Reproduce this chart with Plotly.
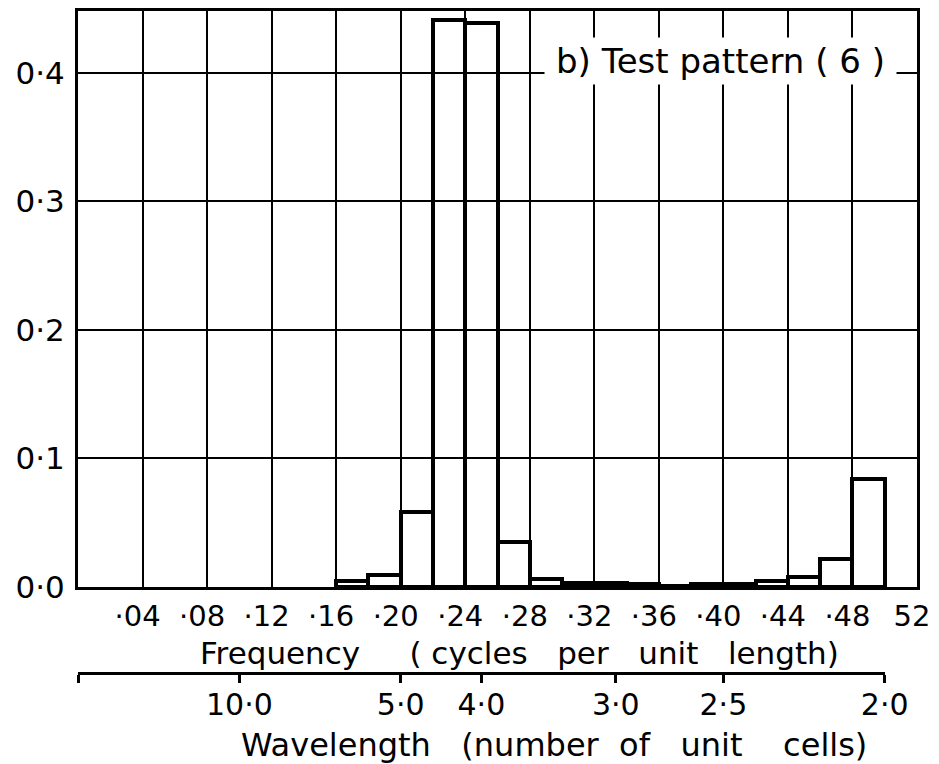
import plotly.graph_objects as go

# ---------------- data ----------------
bin_left = [0.16, 0.18, 0.20, 0.22, 0.24, 0.26, 0.28, 0.30, 0.32,
            0.34, 0.36, 0.38, 0.40, 0.42, 0.44, 0.46, 0.48]
bin_width = 0.02
rel_freq = [0.005, 0.009, 0.058, 0.441, 0.439, 0.035, 0.006, 0.0035, 0.003,
            0.002, 0.001, 0.002, 0.002, 0.005, 0.008, 0.022, 0.084]

freq_ticks = [0.04, 0.08, 0.12, 0.16, 0.20, 0.24, 0.28, 0.32, 0.36, 0.40, 0.44, 0.48, 0.52]
freq_labels = ["·04", "·08", "·12", "·16", "·20", "·24", "·28", "·32", "·36", "·40", "·44", "·48", "52"]

y_ticks = [0.0, 0.1, 0.2, 0.3, 0.4]
y_labels = ["0·0", "0·1", "0·2", "0·3", "0·4"]

wavelengths = [10.0, 5.0, 4.0, 3.0, 2.5, 2.0]
wave_labels = ["10·0", "5·0", "4·0", "3·0", "2·5", "2·0"]

panel_title = "b) Test pattern ( 6 )"
NB = "\u00a0"
freq_title = "Frequency" + NB * 5 + "(" + NB + "cycles" + NB * 3 + "per" + NB * 3 + "unit" + NB * 3 + "length)"
wave_title = "Wavelength" + NB * 3 + "(number" + NB * 2 + "of" + NB * 3 + "unit" + NB * 4 + "cells)"

# ---------------- geometry ----------------
W, H = 939, 764
ML, MR, MT, MB = 78, 22, 11, 0
plot_h = H - MT - MB
plot_w = W - ML - MR
y_dom0 = (H - 587) / plot_h
wave_pos = (H - 672) / plot_h

freq_max = 0.52
wave_axis_max = 1.0 / min(wavelengths)

def px_x(px):
    return (px - ML) / plot_w

def px_y(py):
    return (H - py) / plot_h

fig = go.Figure()
fig.add_trace(go.Bar(
    x=bin_left, y=rel_freq, width=bin_width, offset=0,
    marker=dict(color="rgba(0,0,0,0)", line=dict(color="black", width=4)),
    hoverinfo="x+y", showlegend=False,
))
# empty trace that makes the wavelength axis exist
fig.add_trace(go.Scatter(x=[], y=[], xaxis="x2", yaxis="y2", showlegend=False,
                         hoverinfo="skip"))

fig.update_layout(
    width=W, height=H,
    margin=dict(l=ML, r=MR, t=MT, b=MB, autoexpand=False),
    paper_bgcolor="white", plot_bgcolor="rgba(0,0,0,0)",
    font=dict(family="DejaVu Sans", color="black"),
    bargap=0, showlegend=False,
    xaxis=dict(
        range=[0, freq_max], domain=[0, 1], anchor="y",
        tickvals=freq_ticks, ticktext=freq_labels, ticks="",
        tickfont=dict(size=29), ticklabelstandoff=1, ticklabelshift=-5,
        showgrid=True, gridcolor="black", gridwidth=2,
        showline=True, linecolor="black", linewidth=3, mirror=True,
        zeroline=False, automargin=False,
    ),
    yaxis=dict(
        range=[0, 0.448], domain=[y_dom0, 1], anchor="x",
        tickvals=y_ticks, ticktext=y_labels, ticks="",
        tickfont=dict(size=31), ticklabelstandoff=4,
        showgrid=True, gridcolor="black", gridwidth=2,
        showline=True, linecolor="black", linewidth=3, mirror=True,
        zeroline=False, automargin=False,
    ),
    xaxis2=dict(
        range=[0, wave_axis_max], domain=[0, wave_axis_max / freq_max],
        anchor="y2", side="bottom",
        tickvals=[0] + [1.0 / w for w in wavelengths], ticktext=[""] + wave_labels,
        ticks="outside", ticklen=8, tickwidth=2.5, tickcolor="black",
        tickfont=dict(size=30), ticklabelstandoff=-4,
        showline=True, linecolor="black", linewidth=2.5,
        showgrid=False, zeroline=False, automargin=False,
    ),
    yaxis2=dict(
        domain=[wave_pos, wave_pos + 0.02], anchor="x2", range=[0, 1],
        visible=False, showgrid=False, zeroline=False,
    ),
    annotations=[
        dict(text=panel_title, xref="x", yref="y", x=0.3985, y=0.409,
             xanchor="center", yanchor="middle",
             showarrow=False, font=dict(size=34), bgcolor="white",
             width=345, borderpad=3),
        dict(text=freq_title, xref="paper", yref="paper", x=px_x(519), y=px_y(653),
             xanchor="center", yanchor="middle",
             showarrow=False, font=dict(size=31)),
        dict(text=wave_title, xref="paper", yref="paper", x=px_x(554), y=px_y(745),
             xanchor="center", yanchor="middle",
             showarrow=False, font=dict(size=32)),
    ],
)

fig.write_html("out.html")
